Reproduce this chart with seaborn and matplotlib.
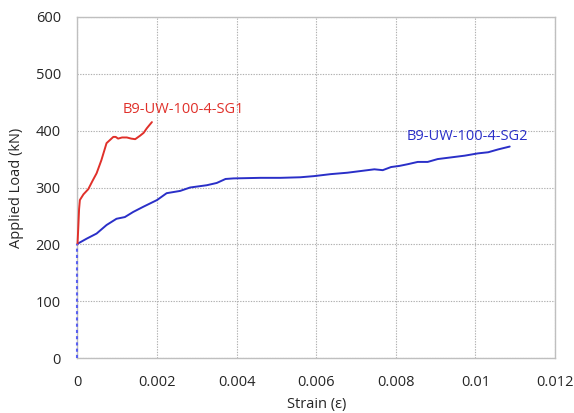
import matplotlib
matplotlib.use("Agg")
import matplotlib.pyplot as plt
import seaborn as sns
import pandas as pd

sns.set_theme(style="white")
plt.rcParams['font.family'] = ['Open Sans', 'DejaVu Sans']

# SG1 (red)
sg1_strain = [0.0, 0.00002, 0.00004, 0.00006, 0.00015, 0.00027, 0.00038, 0.00048, 0.0006,
              0.00073, 0.0009, 0.00096, 0.00102, 0.00112, 0.00124, 0.00135, 0.00145,
              0.00157, 0.00166, 0.00174, 0.00181, 0.00187]
sg1_load = [200, 230, 262, 278, 288, 297, 312, 325, 348,
            378, 389, 389, 386, 388, 388, 386, 385,
            391, 396, 404, 410, 415]

# SG2 (blue) - initial near-vertical portion
sg2_pre_strain = [0.0, 0.0, 0.0, 0.0, 0.0, 0.0, 0.0, 0.0, 0.0, 0.0, 0.0]
sg2_pre_load = [0, 20, 40, 60, 80, 100, 120, 140, 160, 180, 200]

sg2_strain = [0.0, 0.00023, 0.00048, 0.00073, 0.00098, 0.00119, 0.0014, 0.00165, 0.002,
              0.00224, 0.00258, 0.00283, 0.00325, 0.0035, 0.00372, 0.00392, 0.0046,
              0.0051, 0.0056, 0.00594, 0.00636, 0.00678, 0.00712, 0.00746, 0.00767,
              0.00788, 0.00809, 0.0083, 0.00855, 0.0088, 0.00905, 0.00939, 0.00973,
              0.01006, 0.01032, 0.01057, 0.01086]
sg2_load = [201, 210, 219, 234, 245, 248, 257, 266, 278,
            290, 294, 300, 304, 308, 315, 316, 317,
            317, 318, 320, 323.5, 326, 329, 332, 330.5,
            336, 338, 341, 345, 345, 350, 353, 356,
            360, 362, 367, 372]

x_ticks = [0, 0.002, 0.004, 0.006, 0.008, 0.01, 0.012]
x_tick_labels = ["0", "0.002", "0.004", "0.006", "0.008", "0.01", "0.012"]
y_ticks = [0, 100, 200, 300, 400, 500, 600]

red = "#e0302a"
blue = "#2a2fc8"
txt = "#262626"

fig = plt.figure(figsize=(5.74, 4.13), dpi=100)
ax = fig.add_axes([0.135, 0.133, 0.832, 0.826])

df1 = pd.DataFrame({"x": sg1_strain, "y": sg1_load})
df2 = pd.DataFrame({"x": sg2_strain, "y": sg2_load})
df0 = pd.DataFrame({"x": sg2_pre_strain, "y": sg2_pre_load})

sns.lineplot(data=df0, x="x", y="y", ax=ax, sort=False, color="#5a60f0",
             linestyle=(0, (1.5, 1.5)), linewidth=1.5, estimator=None,
             zorder=4, clip_on=False)
sns.lineplot(data=df2, x="x", y="y", ax=ax, sort=False, color=blue, linewidth=1.4,
             estimator=None, zorder=3, clip_on=False)
sns.lineplot(data=df1, x="x", y="y", ax=ax, sort=False, color=red, linewidth=1.4,
             estimator=None, zorder=3, clip_on=False)

ax.set_xlim(0, 0.012)
ax.set_ylim(0, 600)
ax.set_xticks(x_ticks)
ax.set_xticklabels(x_tick_labels)
ax.set_yticks(y_ticks)
ax.tick_params(axis="both", labelsize=10.5, colors=txt, length=0)
ax.tick_params(axis="x", pad=12)
ax.tick_params(axis="y", pad=12)
ax.grid(True, color="#b0b0b0", linestyle=(0, (1.2, 1.2)), linewidth=0.8)
for s in ax.spines.values():
    s.set_color("#bfbfbf")
    s.set_linewidth(1.0)

ax.set_xlabel("Strain (ε)", fontsize=10.5, color=txt, labelpad=5)
ax.set_ylabel("Applied Load (kN)", fontsize=10.5, color=txt, labelpad=8)

ax.text(0.00266, 438, "B9-UW-100-4-SG1", color=red, fontsize=10.5, ha="center", va="center")
ax.text(0.00979, 389, "B9-UW-100-4-SG2", color=blue, fontsize=10.5, ha="center", va="center")

fig.savefig("out.png", dpi=100)
